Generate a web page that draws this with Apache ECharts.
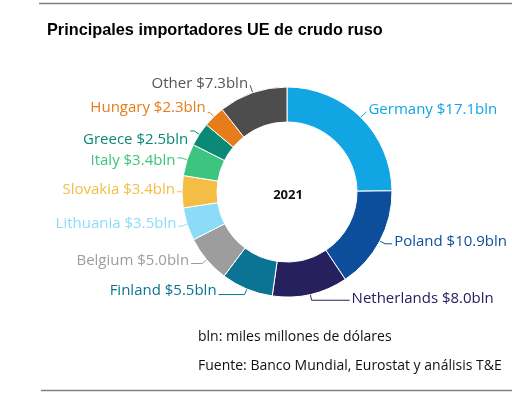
<!DOCTYPE html>
<html><head><meta charset="utf-8">
<script src="https://cdn.jsdelivr.net/npm/echarts@6/dist/echarts.min.js"></script>
<style>html,body{margin:0;padding:0;background:#fff}#c{width:512px;height:393px}</style>
</head><body><div id="c"></div>
<script>
const countries = ['Germany','Poland','Netherlands','Finland','Belgium','Lithuania','Slovakia','Italy','Greece','Hungary','Other'];
const values = [17.1,10.9,8.0,5.5,5.0,3.5,3.4,3.4,2.5,2.3,7.3];
const colors = ['#12a5e3','#0d4e9c','#26205f','#0b7494','#9d9d9d','#8cdcf8','#f4bd45','#3dc47e','#0b8977','#e67c1a','#4d4d4d'];
const labelColors = ['#12a5e3','#0d4e9c','#26205f','#0b7494','#9d9d9d','#8cdcf8','#f4bd45','#3dc47e','#0b8977','#e67c1a','#555555'];
const lineLen = [8,6,6,6,6,6,2,6,6,6,8];
const lineLen2 = [0,7,38,26,11,3,3,4,4,2,0];
const labelDy = [-2,-2,-2,-4,-3,-2,-2,3,9,-5,-1];
const centerLabel = '2021';
const titleText = 'Principales importadores UE de crudo ruso';
const note1 = 'bln: miles millones de dólares';
const note2 = 'Fuente: Banco Mundial, Eurostat y análisis T&E';

const chart = echarts.init(document.getElementById('c'), null, {renderer:'canvas'});
chart.setOption({
  animation:false,
  series:[{
    type:'pie',
    center:[287,192],
    radius:[70,105],
    startAngle:90,
    clockwise:true,
    avoidLabelOverlap:true,
    itemStyle:{borderColor:'#fff',borderWidth:1},
    label:{
      show:true,position:'outside',fontFamily:'Open Sans',fontSize:15,overflow:'none',
      padding:[0,0,8,0],distanceToLabelLine:2,
      formatter:p=>p.name+' $'+p.value.toFixed(1)+'bln'
    },
    labelLine:{show:true,length:6,length2:4,lineStyle:{width:1}},
    labelLayout:function(p){ return {dy: labelDy[p.dataIndex]}; },
    data:countries.map((n,i)=>({name:n,value:values[i],itemStyle:{color:colors[i]},label:{color:labelColors[i]},
      labelLine:{length:lineLen[i],length2:lineLen2[i],lineStyle:{color:labelColors[i]}}}))
  }],
  graphic:[
    {type:'line',shape:{x1:39,y1:3.5,x2:512,y2:3.5},style:{stroke:'#808080',lineWidth:1.5}},
    {type:'line',shape:{x1:41,y1:390.5,x2:512,y2:390.5},style:{stroke:'#808080',lineWidth:1.5}},
    {type:'text',left:47,top:23,style:{text:titleText,font:'bold 16.3px "Liberation Sans"',fill:'#000'}},
    {type:'text',x:288,y:195,style:{text:centerLabel,font:'bold 13px "Open Sans"',fill:'#111',align:'center',verticalAlign:'middle'}},
    {type:'text',left:198,top:330,style:{text:note1,font:'14px "Open Sans"',fill:'#111'}},
    {type:'text',left:198,top:359,style:{text:note2,font:'14px "Open Sans"',fill:'#111'}}
  ]
});
</script></body></html>
